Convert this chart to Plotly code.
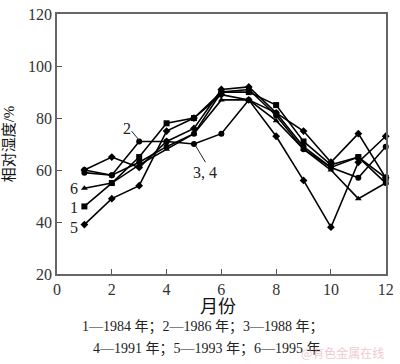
import plotly.graph_objects as go

months = list(range(1, 13))
s1 = [46, 55, 65, 78, 80, 90, 90, 85, 71, 62, 65, 57]
s2 = [59, 58, 71, 71, 70, 74, 87, 82, 69, 61, 57, 69]
s3 = [60, 65, 61, 71, 76, 91, 92, 82, 75, 63, 74, 57]
s4 = [60, 58, 63, 69, 74, 90, 91, 81, 68, 61, 65, 55]
s5 = [39, 49, 54, 75, 80, 89, 87, 73, 56, 38, 63, 73]
s6 = [53, 55, 62, 68, 74, 87, 87, 79, 68, 60, 49, 55]
series = [("1", s1, "square"), ("2", s2, "circle"), ("3", s3, "diamond"),
          ("4", s4, "circle"), ("5", s5, "diamond"), ("6", s6, "triangle-up")]
x_ticks = [0, 2, 4, 6, 8, 10, 12]
y_ticks = [20, 40, 60, 80, 100, 120]

FONT = "'Liberation Serif', 'Noto Sans CJK SC', serif"

fig = go.Figure()
for name, vals, sym in series:
    fig.add_trace(go.Scatter(x=months, y=vals, mode="lines+markers", name=name,
                             line=dict(color="black", width=1.6),
                             marker=dict(symbol=sym, size=6, color="black"),
                             showlegend=False, cliponaxis=False))

ann = [
    dict(x=0.62, y=53, text="6"), dict(x=0.62, y=45.5, text="1"), dict(x=0.62, y=38, text="5"),
    dict(x=2.55, y=76, text="2"), dict(x=5.4, y=59, text="3, 4"),
]
for a in ann:
    fig.add_annotation(x=a["x"], y=a["y"], text=a["text"], showarrow=False,
                       font=dict(family=FONT, size=16, color="#222"))
fig.add_shape(type="line", x0=2.72, y0=75, x1=3.0, y1=71.5, line=dict(color="#222", width=1))
fig.add_shape(type="line", x0=5.05, y0=69.5, x1=5.42, y1=63, line=dict(color="#222", width=1))

fig.add_annotation(xref="paper", yref="paper", x=0.49, y=-0.08, text="月份", showarrow=False,
                   font=dict(family=FONT, size=18, color="#111"), xanchor="center", yanchor="top")
fig.add_annotation(xref="paper", yref="paper", x=0.443, y=-0.165,
                   text="1—1984 年；2—1986 年；3—1988 年；", showarrow=False,
                   font=dict(family=FONT, size=14, color="#222"), xanchor="center", yanchor="top")
fig.add_annotation(xref="paper", yref="paper", x=0.455, y=-0.25,
                   text="4—1991 年；5—1993 年；6—1995 年", showarrow=False,
                   font=dict(family=FONT, size=14, color="#222"), xanchor="center", yanchor="top")
fig.add_annotation(xref="paper", yref="paper", x=1.0, y=-0.26,
                   text="@有色金属在线", showarrow=False,
                   font=dict(family="Noto Sans CJK SC", size=12, color="rgba(230,150,160,0.55)"),
                   xanchor="right", yanchor="top")

fig.update_xaxes(range=[0, 12.01], tickvals=x_ticks, ticks="inside", ticklen=5, tickcolor="#555",
                 showline=True, linecolor="#666", linewidth=1.5, mirror=True, showgrid=False,
                 zeroline=False, tickfont=dict(family=FONT, size=16, color="#333"),
                 ticklabeloverflow="allow")
fig.update_yaxes(range=[20, 120.05], tickvals=y_ticks, ticks="inside", ticklen=5, tickcolor="#555",
                 showline=True, linecolor="#666", linewidth=1.5, mirror=True, showgrid=False,
                 zeroline=False, tickfont=dict(family=FONT, size=16, color="#333"),
                 ticklabeloverflow="allow",
                 title=dict(text="相对湿度/%", font=dict(family=FONT, size=15, color="#111"),
                            standoff=10))
fig.update_layout(width=400, height=364, margin=dict(l=57, r=9, t=6, b=90),
                  paper_bgcolor="white", plot_bgcolor="white")
fig.write_html("out.html", config={"displayModeBar": False},
               post_script="document.body.style.margin='0';document.body.style.padding='0';")
